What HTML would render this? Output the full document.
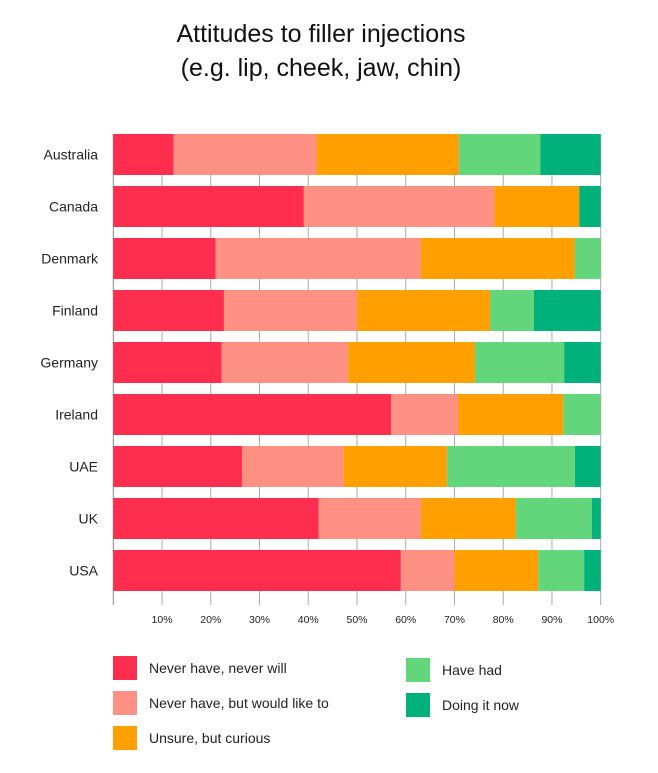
<!DOCTYPE html>
<html><head><meta charset="utf-8"><style>
body{margin:0;background:#fff;width:658px;height:768px;overflow:hidden;font-family:"Liberation Sans",sans-serif}
</style></head><body>
<svg width="658" height="768" id="svg">
<text x="321" y="42" text-anchor="middle" font-size="25" fill="#111">Attitudes to filler injections</text>
<text x="321" y="76" text-anchor="middle" font-size="25" fill="#111">(e.g. lip, cheek, jaw, chin)</text>
<g id="grid"></g><g id="bars"></g><g id="labels"></g><g id="legend"></g>
</svg>
<script>
const categories=["Australia","Canada","Denmark","Finland","Germany","Ireland","UAE","UK","USA"];
const neverWill=[12.4,39.1,21.0,22.7,22.2,57.0,26.4,42.1,59.0];
const wouldLike=[29.3,39.1,42.1,27.3,26.0,13.7,20.9,21.0,11.0];
const unsure=[29.2,17.4,31.6,27.3,26.0,21.6,21.2,19.5,17.2];
const hadIt=[16.7,0,5.3,9.0,18.3,7.7,26.2,15.6,9.4];
const doingNow=[12.4,4.4,0,13.7,7.5,0,5.3,1.8,3.4];
const tickValues=[10,20,30,40,50,60,70,80,90,100];
const tickLabels=["10%","20%","30%","40%","50%","60%","70%","80%","90%","100%"];
const seriesNames=["Never have, never will","Never have, but would like to","Unsure, but curious","Have had","Doing it now"];
const colors=["#ff2e4f","#ff9184","#ffa000","#63d57b","#00b27a"];
const series=[neverWill,wouldLike,unsure,hadIt,doingNow];
const NS="http://www.w3.org/2000/svg";
const x0=113.3,x1=600.7;
const xs=v=>x0+(x1-x0)*v/100;
const yBar=i=>134+i*52, bh=41;
function mk(t,a,p){const e=document.createElementNS(NS,t);for(const k in a)e.setAttribute(k,a[k]);p.appendChild(e);return e;}
const grid=document.getElementById('grid');
const ax=mk('line',{x1:x0,x2:x0,y1:134,y2:605,stroke:'#888','stroke-width':1},grid);


tickValues.forEach((v,i)=>{
 const l=mk('line',{x1:xs(v),x2:xs(v),y1:134,y2:605,stroke:'#aaa','stroke-width':1},grid);
 
 
 const t=mk('text',{x:xs(v),y:623,'text-anchor':'middle','font-size':10.5,fill:'#222'},document.getElementById('labels'));
 t.textContent=tickLabels[i];
 
 
});
const bars=document.getElementById('bars');
categories.forEach((c,i)=>{
 let acc=0;
 series.forEach((s,k)=>{
  const v=s[i];
  const r=mk('rect',{x:xs(acc),y:yBar(i),width:Math.max(0,xs(acc+v)-xs(acc)),height:bh,fill:colors[k]},bars);
  
  
  acc+=v;
 });
 const t=mk('text',{x:98,y:yBar(i)+bh/2+5,'text-anchor':'end','font-size':14,fill:'#222'},document.getElementById('labels'));
 t.textContent=c;
 
 
});
const leg=document.getElementById('legend');
const lpos=[[113,656],[113,691],[113,726],[406,658],[406,693]];
seriesNames.forEach((n,k)=>{
 const [lx,ly]=lpos[k];
 const r=mk('rect',{x:lx,y:ly,width:24,height:24,fill:colors[k]},leg);
 
 
 const t=mk('text',{x:lx+36,y:ly+17,'font-size':14,fill:'#222'},leg);
 t.textContent=n;
 
 
});
</script>
</body></html>
